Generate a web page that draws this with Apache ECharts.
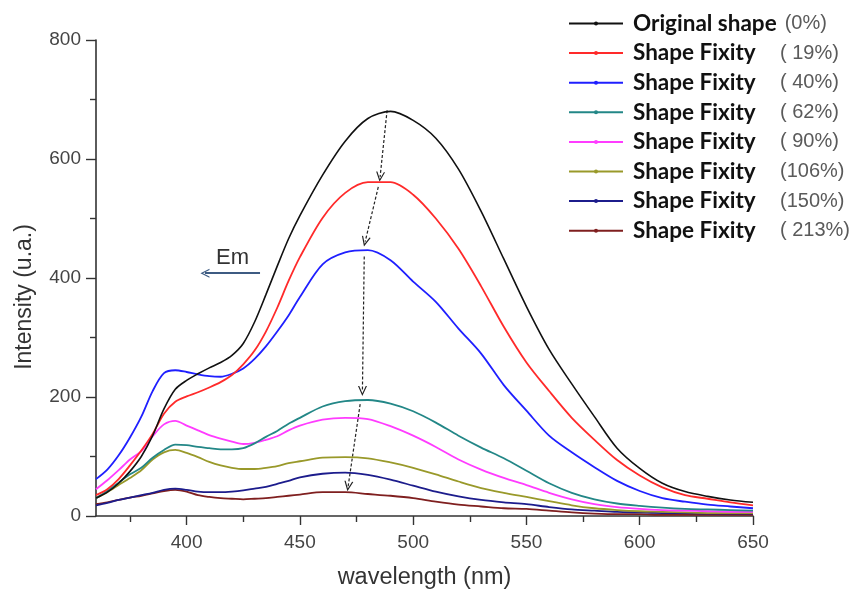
<!DOCTYPE html>
<html>
<head>
<meta charset="utf-8">
<script src="https://cdn.jsdelivr.net/npm/echarts@6/dist/echarts.min.js"></script>
<style>
  html, body { margin: 0; padding: 0; background: #fff; }
  #chart { width: 868px; height: 595px; }
</style>
</head>
<body>
<div id="chart"></div>
<script>
// Emission spectra: wavelength grid (nm)
const wavelength = [360, 365, 370, 375, 380, 385, 390, 395, 400, 405, 410, 415, 420, 425, 430, 435, 440, 445, 450,
  460, 470, 480, 490, 500, 510, 520, 530, 540, 550, 560, 570, 580, 590, 600, 610, 620, 630, 640, 650];

// Intensity (u.a.) per sample
const original0 = [30, 40, 55, 75, 100, 135, 180, 213, 228, 239, 249, 258, 270, 290, 326, 372, 420, 466, 505,
  573, 630, 668, 680, 665, 635, 583, 512, 432, 352, 280, 222, 167, 114, 80, 55, 41, 33, 27, 23];
const fixity19 = [35, 45, 62, 85, 110, 138, 172, 192, 201, 208, 216, 225, 237, 255, 278, 310, 350, 395, 435,
  501, 543, 561, 561, 540, 500, 449, 386, 318, 258, 210, 165, 128, 94, 68, 48, 35, 29, 23, 18];
const fixity40 = [62, 78, 102, 132, 167, 210, 240, 245, 242, 238, 235, 234, 239, 248, 264, 285, 310, 337, 368,
  423, 443, 447, 430, 394, 360, 315, 273, 220, 177, 135, 107, 82, 59, 42, 30, 24, 19, 16, 13];
const fixity62 = [30, 42, 56, 70, 81, 98, 111, 120, 119, 116, 114, 112, 112, 114, 122, 133, 143, 155, 165,
  184, 193, 195, 189, 176, 157, 135, 115, 97, 76, 55, 39, 28, 21, 17, 14, 12, 11, 10, 9];
const fixity90 = [45, 60, 77, 95, 109, 134, 154, 160, 152, 144, 136, 130, 125, 121, 123, 128, 134, 144, 152,
  162, 165, 163, 151, 135, 116, 95, 78, 64, 52, 39, 28, 20, 15, 12, 10, 9, 8, 7, 7];
const fixity106 = [30, 40, 52, 64, 77, 95, 107, 111, 106, 99, 91, 85, 81, 79, 79, 81, 84, 89, 92,
  98, 99, 97, 90, 81, 70, 58, 47, 39, 32, 25, 18, 13, 10, 8, 7, 6, 5, 5, 5];
const fixity150 = [18, 22, 27, 31, 35, 39, 44, 46, 44, 41, 40, 40, 41, 43, 46, 49, 54, 59, 65,
  71, 73, 69, 61, 51, 41, 33, 27, 23, 20, 15, 11, 9, 7, 6, 5, 5, 4, 4, 4];
const fixity213 = [20, 23, 27, 31, 34, 38, 42, 44, 41, 35, 32, 30, 29, 28, 29, 30, 32, 34, 36,
  40, 40, 37, 34, 30, 24, 19, 16, 13, 12, 9, 6, 4, 3, 3, 2, 2, 2, 2, 2];

// Legend labels
const seriesLabels = ['Original shape', 'Shape Fixity', 'Shape Fixity', 'Shape Fixity',
  'Shape Fixity', 'Shape Fixity', 'Shape Fixity', 'Shape Fixity'];
const seriesPercent = ['(0%)', '( 19%)', '( 40%)', '( 62%)', '( 90%)', '(106%)', '(150%)', '( 213%)'];
const seriesValues = [original0, fixity19, fixity40, fixity62, fixity90, fixity106, fixity150, fixity213];
const seriesColors = ['#111111', '#ff2a2a', '#1f1fff', '#238787', '#ff3cff', '#99992a', '#1c1c8c', '#7f1f1f'];

// Axis ticks
const xMajorTicks = [400, 450, 500, 550, 600, 650];
const xMinorTicks = [375, 425, 475, 525, 575, 625];

// Peak-shift guide arrows (wavelength, intensity)
const peakArrows = [
  [[488.5, 682], [485.4, 570]],
  [[484.6, 553], [478.8, 461]],
  [[478.4, 436], [477.6, 210]],
  [[476.6, 188], [471.3, 50]]
];
const emArrow = [[432.4, 408], [408.1, 408]];

const chevron = 'path://M0,10 L5,0 L10,10 L8.6,10 L5,2.8 L1.4,10 Z';

const names = seriesLabels.map((l, i) => l + ' ' + seriesPercent[i]);

const series = seriesValues.map((vals, i) => ({
  name: names[i],
  type: 'line',
  xAxisIndex: 0,
  data: wavelength.map((w, k) => [w, vals[k]]),
  smooth: 0.3,
  symbol: 'circle',
  symbolSize: 3,
  showSymbol: false,
  color: seriesColors[i],
  lineStyle: { color: seriesColors[i], width: i === 0 ? 1.6 : 1.8 },
  z: 10 - i
}));

// dotted arrows following the emission maximum
series[0].markLine = {
  silent: true,
  symbol: ['none', chevron],
  symbolSize: [9, 10],
  label: { show: false },
  lineStyle: { color: '#222', width: 1.2, type: [3, 2] },
  data: peakArrows.map(a => [{ coord: a[0] }, { coord: a[1] }])
};
// "Em" direction arrow
series[2].markLine = {
  silent: true,
  symbol: ['none', chevron],
  symbolSize: [9, 9],
  lineStyle: { color: '#3d5b82', width: 2, type: 'solid' },
  label: {
    show: true,
    position: 'insideMiddleTop',
    formatter: 'Em',
    color: '#333',
    fontFamily: 'Liberation Sans',
    fontSize: 22,
    distance: 4
  },
  data: [[{ coord: emArrow[0] }, { coord: emArrow[1] }]]
};

const chart = echarts.init(document.getElementById('chart'), null, { renderer: 'canvas' });
chart.setOption({
  backgroundColor: '#ffffff',
  animation: false,
  grid: { left: 96, right: 115, top: 40, bottom: 78 },
  legend: {
    orient: 'vertical',
    left: 563,
    top: 7,
    itemWidth: 54,
    itemHeight: 5,
    itemGap: 6.6,
    data: names,
    formatter: function (name) {
      const i = names.indexOf(name);
      if (i === 0) return '{a0|' + seriesLabels[i] + '}{b|' + seriesPercent[i] + '}';
      return '{a|' + seriesLabels[i] + '}{b|' + seriesPercent[i] + '}';
    },
    textStyle: {
      lineHeight: 20,
      rich: {
        a0: { fontFamily: 'Lato', fontWeight: 'bold', fontSize: 22.5, color: '#111', padding: [0, 8, 0, 5], lineHeight: 20 },
        a: { fontFamily: 'Lato', fontWeight: 'bold', fontSize: 22.5, color: '#111', width: 147, padding: [0, 0, 0, 5], lineHeight: 20 },
        b: { fontFamily: 'Liberation Sans', fontSize: 20, color: '#5a5a5a', lineHeight: 20 }
      }
    }
  },
  xAxis: [
    {
      type: 'value',
      min: 360,
      max: 650,
      position: 'bottom',
      name: 'wavelength (nm)',
      nameLocation: 'middle',
      nameGap: 50,
      nameTextStyle: { fontFamily: 'Liberation Sans', fontSize: 23.5, color: '#333' },
      axisLine: { show: true, lineStyle: { color: '#333', width: 1.6 } },
      axisTick: { show: true, customValues: xMajorTicks, length: 9, inside: false, lineStyle: { color: '#333', width: 1.4 } },
      axisLabel: { show: true, customValues: xMajorTicks, fontFamily: 'Liberation Sans', fontSize: 19, color: '#444', margin: 17 },
      splitLine: { show: false }
    },
    {
      type: 'value',
      min: 360,
      max: 650,
      position: 'bottom',
      axisLine: { show: false },
      axisTick: { show: true, customValues: xMinorTicks, length: 6, inside: false, lineStyle: { color: '#333', width: 1.4 } },
      axisLabel: { show: false },
      splitLine: { show: false }
    }
  ],
  yAxis: {
    type: 'value',
    min: 0,
    max: 800,
    interval: 200,
    name: 'Intensity (u.a.)',
    nameLocation: 'middle',
    nameRotate: 90,
    nameGap: 60,
    nameTextStyle: { fontFamily: 'Liberation Sans', fontSize: 23, color: '#333', padding: [0, 38, 0, 0] },
    axisLine: { show: true, lineStyle: { color: '#333', width: 1.6 } },
    axisTick: { show: true, length: 10, inside: false, lineStyle: { color: '#333', width: 1.4 } },
    minorTick: { show: true, splitNumber: 2, length: 6, lineStyle: { color: '#333', width: 1.4 } },
    axisLabel: { fontFamily: 'Liberation Sans', fontSize: 19, color: '#444', margin: 15 },
    splitLine: { show: false }
  },
  series: series
});
</script>
</body>
</html>
